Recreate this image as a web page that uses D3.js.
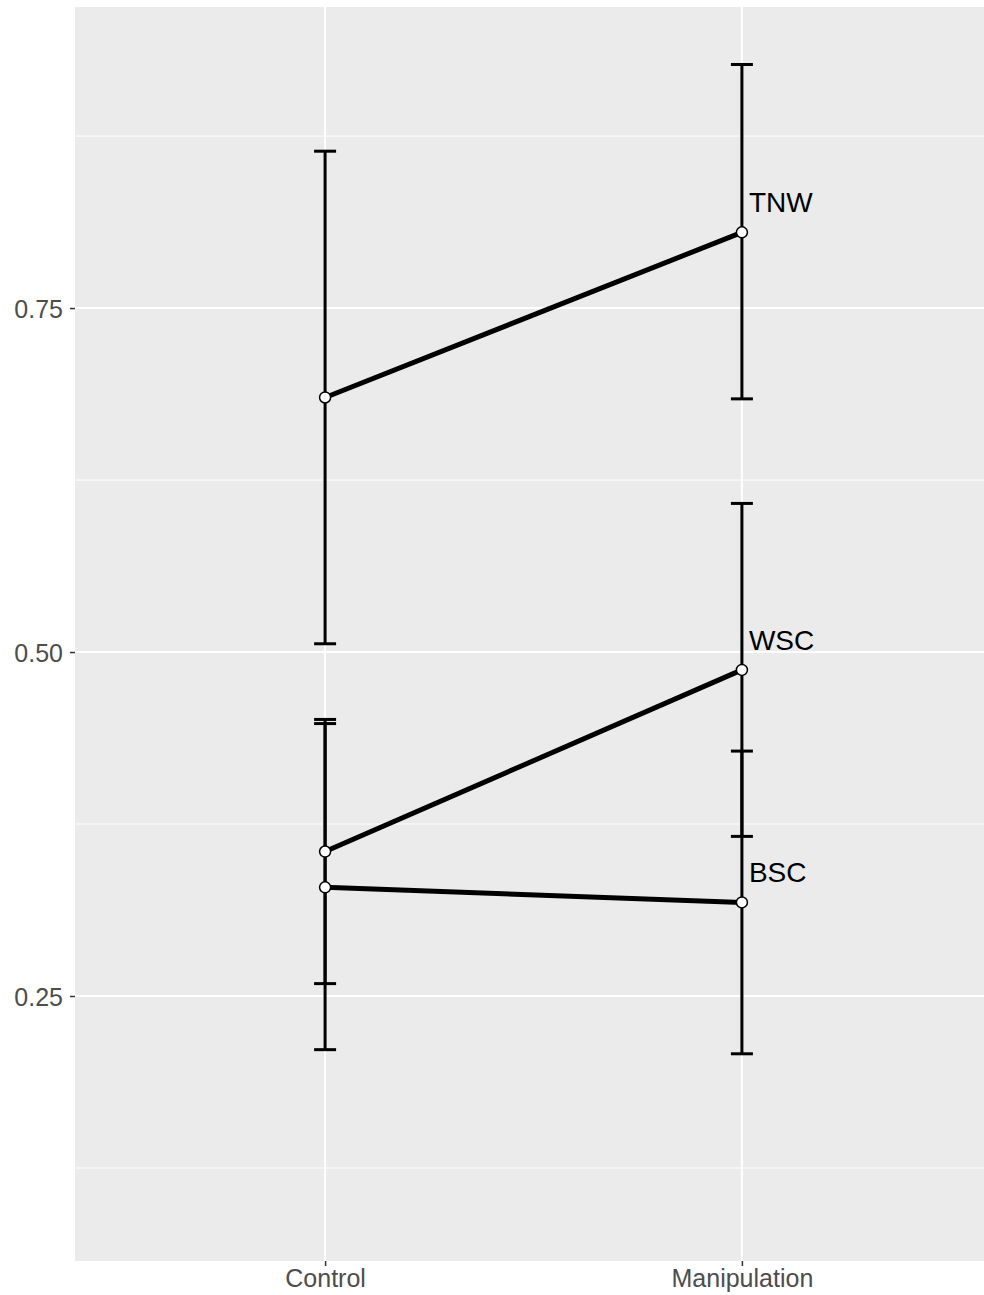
<!DOCTYPE html>
<html>
<head>
<meta charset="utf-8">
<script src="https://cdn.jsdelivr.net/npm/d3@7"></script>
<style>
    body { margin: 0; background: #fff; }
    text { font-family: "Liberation Sans", Arial, Helvetica, sans-serif; }
</style>
</head>
<body>
<svg id="plot" width="984" height="1295"></svg>
<script>
// values
const categories  = ["Control", "Manipulation"];
const groupNames  = ["TNW", "WSC", "BSC"];

const tnwMean  = [0.685, 0.805];
const tnwLower = [0.506, 0.684];
const tnwUpper = [0.864, 0.927];

const wscMean  = [0.355, 0.487];
const wscLower = [0.259, 0.366];
const wscUpper = [0.451, 0.608];

const bscMean  = [0.329, 0.318];
const bscLower = [0.211, 0.208];
const bscUpper = [0.448, 0.428];

const yTicks      = [0.25, 0.50, 0.75];
const yMinorTicks = [0.125, 0.375, 0.625, 0.875];
const yTickLabels = ["0.25", "0.50", "0.75"];

const groups = [
    { name: groupNames[0], mean: tnwMean, lower: tnwLower, upper: tnwUpper },
    { name: groupNames[1], mean: wscMean, lower: wscLower, upper: wscUpper },
    { name: groupNames[2], mean: bscMean, lower: bscLower, upper: bscUpper }
];

const svg = d3.select("#plot");

const panel = { left: 75, top: 7, right: 992, bottom: 1261 };

const x = d3.scalePoint()
    .domain(categories)
    .range([panel.left, panel.right])
    .padding(0.6);

const y = d3.scaleLinear()
    .domain([0.0574, 0.9688])
    .range([panel.bottom, panel.top]);

// panel background
svg.append("rect")
    .attr("x", panel.left)
    .attr("y", panel.top)
    .attr("width", panel.right - panel.left)
    .attr("height", panel.bottom - panel.top)
    .attr("fill", "#EBEBEB");

// grid lines
const grid = svg.append("g");
grid.selectAll(".minor").data(yMinorTicks).enter().append("line")
    .attr("x1", panel.left).attr("x2", panel.right)
    .attr("y1", d => y(d)).attr("y2", d => y(d))
    .attr("stroke", "#fff").attr("stroke-width", 1);
grid.selectAll(".major").data(yTicks).enter().append("line")
    .attr("x1", panel.left).attr("x2", panel.right)
    .attr("y1", d => y(d)).attr("y2", d => y(d))
    .attr("stroke", "#fff").attr("stroke-width", 2);
grid.selectAll(".vmajor").data(categories).enter().append("line")
    .attr("x1", d => x(d)).attr("x2", d => x(d))
    .attr("y1", panel.top).attr("y2", panel.bottom)
    .attr("stroke", "#fff").attr("stroke-width", 2);

// axes
const yAxis = d3.axisLeft(y)
    .tickValues(yTicks)
    .tickFormat((d, i) => yTickLabels[i])
    .tickSize(5)
    .tickPadding(7);
const gy = svg.append("g")
    .attr("transform", `translate(${panel.left},0)`)
    .call(yAxis);
gy.select(".domain").remove();
gy.selectAll(".tick line").attr("stroke", "#333").attr("stroke-width", 1.5);
gy.selectAll(".tick text")
    .attr("fill", "#4D4D4D")
    .attr("font-size", 25)
    .attr("dy", "0.36em");

const xAxis = d3.axisBottom(x)
    .tickSize(5)
    .tickPadding(3);
const gx = svg.append("g")
    .attr("transform", `translate(0,${panel.bottom})`)
    .call(xAxis);
gx.select(".domain").remove();
gx.selectAll(".tick line").attr("stroke", "#333").attr("stroke-width", 1.5);
gx.selectAll(".tick text")
    .attr("fill", "#4D4D4D")
    .attr("font-size", 25)
    .attr("dy", "0.71em");

// error bars
const capHalf = 11;
const bars = [];
groups.forEach(g => categories.forEach((c, i) => {
    bars.push({ cat: c, lo: g.lower[i], hi: g.upper[i] });
}));

const eb = svg.append("g").attr("stroke", "#000").attr("stroke-width", 3);
eb.selectAll(".eb-v").data(bars).enter().append("line")
    .attr("x1", d => x(d.cat)).attr("x2", d => x(d.cat))
    .attr("y1", d => y(d.lo)).attr("y2", d => y(d.hi));
eb.selectAll(".eb-lo").data(bars).enter().append("line")
    .attr("x1", d => x(d.cat) - capHalf).attr("x2", d => x(d.cat) + capHalf)
    .attr("y1", d => y(d.lo)).attr("y2", d => y(d.lo));
eb.selectAll(".eb-hi").data(bars).enter().append("line")
    .attr("x1", d => x(d.cat) - capHalf).attr("x2", d => x(d.cat) + capHalf)
    .attr("y1", d => y(d.hi)).attr("y2", d => y(d.hi));

// connecting lines
const line = d3.line()
    .x((d, i) => x(categories[i]))
    .y(d => y(d));
svg.append("g").selectAll("path").data(groups).enter().append("path")
    .attr("d", d => line(d.mean))
    .attr("fill", "none")
    .attr("stroke", "#000")
    .attr("stroke-width", 5);

// points
const pts = [];
groups.forEach(g => categories.forEach((c, i) => pts.push({ cat: c, v: g.mean[i] })));
svg.append("g").selectAll("circle").data(pts).enter().append("circle")
    .attr("cx", d => x(d.cat))
    .attr("cy", d => y(d.v))
    .attr("r", 5.5)
    .attr("fill", "#fff")
    .attr("stroke", "#000")
    .attr("stroke-width", 1.5);

// group labels next to the Manipulation points
svg.append("g").selectAll("text").data(groups).enter().append("text")
    .attr("x", x(categories[1]) + 7)
    .attr("y", d => y(d.mean[1]) - 20)
    .attr("font-size", 28)
    .attr("fill", "#000")
    .text(d => d.name);
</script>
</body>
</html>
